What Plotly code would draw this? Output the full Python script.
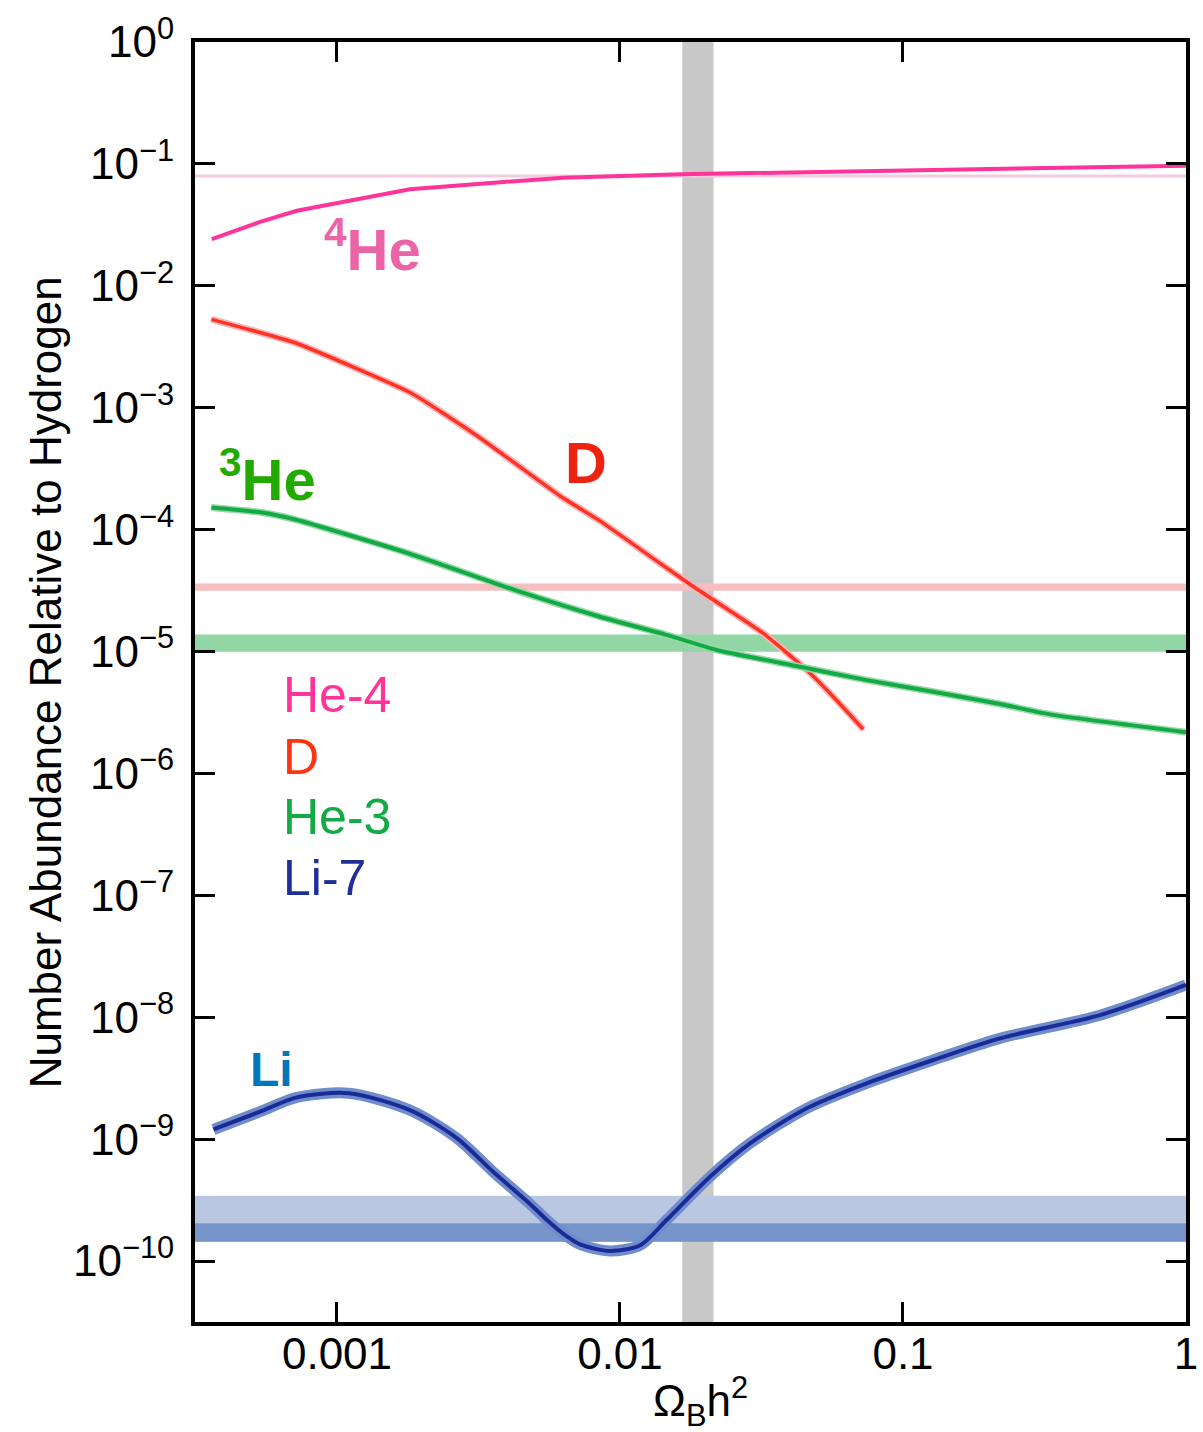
import numpy as np
import plotly.graph_objects as go

# ---------------- data ----------------
he4_x = [0.000361, 0.000535, 0.000721, 0.00181, 0.00398, 0.0063, 0.0163, 0.0975, 0.288, 1.0]
he4_y = [0.0241, 0.0335, 0.0413, 0.0619, 0.0714, 0.0771, 0.0822, 0.0880, 0.0931, 0.0967]

d_x = [0.000360, 0.000711, 0.00184, 0.00316, 0.00622, 0.00849, 0.0144, 0.0182, 0.0321, 0.0457, 0.0567, 0.0724]
d_y = [0.00531, 0.00341, 0.00131, 0.000578, 0.000185, 0.000118, 4.97e-5, 3.40e-5, 1.41e-5, 7.05e-6, 4.26e-6, 2.30e-6]

he3_x = [0.000360, 0.000542, 0.000711, 0.00179, 0.00426, 0.00849, 0.0146, 0.0220, 0.0433, 0.0744, 0.128, 0.220, 0.331, 1.0]
he3_y = [1.52e-4, 1.38e-4, 1.21e-4, 6.39e-5, 3.19e-5, 1.93e-5, 1.37e-5, 1.03e-5, 7.50e-6, 5.83e-6, 4.68e-6, 3.71e-6, 3.05e-6, 2.18e-6]

li_x = [0.000366, 0.000535, 0.000721, 0.00110, 0.00181, 0.00265, 0.00357, 0.00481, 0.00552, 0.00640, 0.00723,
        0.00923, 0.0118, 0.0146, 0.0208, 0.0288, 0.0457, 0.0744, 0.128, 0.220, 0.497, 1.0]
li_y = [1.20e-9, 1.68e-9, 2.20e-9, 2.38e-9, 1.73e-9, 1.02e-9, 5.37e-10, 2.94e-10, 2.17e-10, 1.63e-10, 1.37e-10,
        1.21e-10, 1.35e-10, 2.17e-10, 4.92e-10, 9.24e-10, 1.79e-9, 2.87e-9, 4.46e-9, 6.71e-9, 1.04e-8, 1.84e-8]

# observational constraints
he4_obs = 0.0796
d_obs = [3.15e-5, 3.62e-5]
he3_obs = [9.98e-6, 1.38e-5]
li_obs_wide = [1.44e-10, 3.44e-10]
li_obs_core = [1.44e-10, 2.04e-10]
omega_band = [0.0166, 0.0214]

# axes
x_range = [0.000315, 1.0]
y_range = [10 ** -10.5, 1.0]
x_tickvals = [0.001, 0.01, 0.1, 1]
x_ticktext = ["0.001", "0.01", "0.1", "1"]
y_tickvals = [10.0 ** -k for k in range(0, 11)]
y_ticktext = ["10<sup>0</sup>"] + ["10<sup>\u2212%d</sup>" % k for k in range(1, 11)]

FONT = "Liberation Sans, Arial, Helvetica, sans-serif"

fig = go.Figure()


def hband(lo, hi, color):
    fig.add_trace(go.Scatter(
        x=[x_range[0], x_range[1], x_range[1], x_range[0], x_range[0]],
        y=[lo, lo, hi, hi, lo], mode="lines", fill="toself",
        fillcolor=color, line=dict(width=0), hoverinfo="skip", showlegend=False))


# vertical grey band
fig.add_trace(go.Scatter(
    x=[omega_band[0], omega_band[1], omega_band[1], omega_band[0], omega_band[0]],
    y=[y_range[0], y_range[0], y_range[1], y_range[1], y_range[0]],
    mode="lines", fill="toself", fillcolor="#C8C8C8", line=dict(width=0),
    hoverinfo="skip", showlegend=False))

hband(li_obs_wide[0], li_obs_wide[1], "#BAC7E3")
hband(li_obs_core[0], li_obs_core[1], "#7895CB")
hband(he3_obs[0], he3_obs[1], "#93D6A6")
hband(d_obs[0], d_obs[1], "#F7BFC2")
fig.add_trace(go.Scatter(x=x_range, y=[he4_obs, he4_obs], mode="lines",
                         line=dict(color="#F5CAE0", width=3), showlegend=False))

# curves
fig.add_trace(go.Scatter(x=he4_x, y=he4_y, mode="lines",
                         line=dict(color="#FF3399", width=4), showlegend=False))
fig.add_trace(go.Scatter(x=d_x, y=d_y, mode="lines",
                         line=dict(color="#F9B5BC", width=7, shape="spline", smoothing=0.4), showlegend=False))
fig.add_trace(go.Scatter(x=d_x, y=d_y, mode="lines",
                         line=dict(color="#FF3322", width=3.5, shape="spline", smoothing=0.4), showlegend=False))
fig.add_trace(go.Scatter(x=he3_x, y=he3_y, mode="lines",
                         line=dict(color="#9AD8AA", width=7, shape="spline", smoothing=0.6), showlegend=False))
fig.add_trace(go.Scatter(x=he3_x, y=he3_y, mode="lines",
                         line=dict(color="#11AA44", width=4, shape="spline", smoothing=0.6), showlegend=False))
fig.add_trace(go.Scatter(x=li_x, y=li_y, mode="lines",
                         line=dict(color="#6F8CCB", width=11, shape="spline", smoothing=0.8), showlegend=False))
fig.add_trace(go.Scatter(x=li_x, y=li_y, mode="lines",
                         line=dict(color="#1A2A99", width=4, shape="spline", smoothing=0.8), showlegend=False))

ann = []


def label(text, x, y, color, size, bold=False, xanchor="center"):
    t = "<b>%s</b>" % text if bold else text
    ann.append(dict(text=t, x=np.log10(x), y=np.log10(y), xref="x", yref="y",
                    showarrow=False, xanchor=xanchor, yanchor="middle",
                    font=dict(family=FONT, size=size, color=color)))


label("<sup>4</sup>He", 0.00133, 0.0215, "#EC64A8", 58, bold=True)
label("D", 0.00759, 0.000352, "#EE2211", 58, bold=True)
label("<sup>3</sup>He", 0.00057, 0.000278, "#22AA00", 58, bold=True)
label("Li", 0.000585, 3.7e-9, "#0077BB", 48, bold=True)

label("He-4", 0.000634, 4.4e-6, "#FF3399", 50, xanchor="left")
label("D", 0.000634, 1.36e-6, "#FF3311", 50, xanchor="left")
label("He-3", 0.000634, 4.4e-7, "#11AA44", 50, xanchor="left")
label("Li-7", 0.000634, 1.39e-7, "#1F2F99", 50, xanchor="left")

ann.append(dict(text="Number Abundance Relative to Hydrogen", xref="paper", yref="paper",
                x=-0.151, y=0.5, showarrow=False, textangle=-90,
                xanchor="center", yanchor="middle",
                font=dict(family=FONT, size=44, color="black")))
ann.append(dict(text="\u03a9<sub>B</sub>h<sup>2</sup>", xref="paper", yref="paper",
                x=0.51, y=-0.062, showarrow=False, xanchor="center", yanchor="middle",
                font=dict(family=FONT, size=44, color="black")))

axis_common = dict(type="log", showline=True, linewidth=4, linecolor="black",
                   mirror="ticks", ticks="inside", ticklen=20, tickwidth=3,
                   tickcolor="black", showgrid=False, zeroline=False, automargin=False,
                   tickfont=dict(family=FONT, size=44, color="black"))

fig.update_layout(
    width=1203, height=1432,
    margin=dict(l=195, r=17, t=42, b=110),
    paper_bgcolor="white", plot_bgcolor="white",
    showlegend=False,
    xaxis=dict(range=[np.log10(x_range[0]), np.log10(x_range[1])],
               tickvals=x_tickvals, ticktext=x_ticktext, ticklabelstandoff=-10, **axis_common),
    yaxis=dict(range=[np.log10(y_range[0]), np.log10(y_range[1])],
               tickvals=y_tickvals, ticktext=y_ticktext, ticklabelstandoff=8, **axis_common),
    annotations=ann,
)

fig.write_html("out.html")
